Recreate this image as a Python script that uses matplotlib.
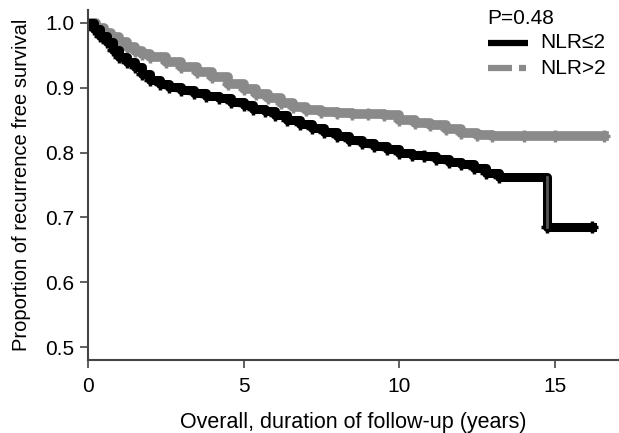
import matplotlib
matplotlib.use("Agg")
import matplotlib.pyplot as plt
from matplotlib.lines import Line2D

plt.rcParams['font.family'] = ['Liberation Sans', 'DejaVu Sans']

# Kaplan-Meier curves (years, survival)
t_low = [0, 0.2, 0.4, 0.6, 0.8, 1.0, 1.25, 1.5, 1.75, 2.0, 2.3, 2.6, 3.0, 3.4,
         3.8, 4.2, 4.6, 5.0, 5.3, 5.7, 6.0, 6.4, 6.8, 7.2, 7.6, 8.0, 8.4, 8.8,
         9.2, 9.6, 10.0, 10.4, 10.8, 11.2, 11.6, 12.0, 12.4, 12.8, 13.2, 14.75, 16.2]
s_low = [1.0, 0.99, 0.98, 0.97, 0.958, 0.948, 0.94, 0.932, 0.922, 0.912, 0.906,
         0.901, 0.897, 0.892, 0.888, 0.884, 0.878, 0.873, 0.868, 0.864, 0.858,
         0.851, 0.844, 0.838, 0.832, 0.825, 0.82, 0.815, 0.81, 0.805, 0.8, 0.797,
         0.794, 0.79, 0.786, 0.782, 0.776, 0.768, 0.762, 0.685, 0.685]

t_high = [0, 0.25, 0.5, 0.75, 1.0, 1.25, 1.5, 1.75, 2.0, 2.5, 3.0, 3.5, 4.0, 4.5,
          5.0, 5.4, 5.8, 6.2, 6.6, 7.0, 7.5, 8.0, 8.5, 9.0, 9.5, 10.0, 10.5, 11.0,
          11.5, 12.0, 12.5, 13.0, 14.0, 15.0, 16.6]
s_high = [1.0, 0.993, 0.985, 0.978, 0.97, 0.963, 0.957, 0.952, 0.948, 0.94, 0.932,
          0.924, 0.916, 0.906, 0.898, 0.891, 0.884, 0.877, 0.871, 0.866, 0.862,
          0.861, 0.86, 0.86, 0.858, 0.851, 0.846, 0.842, 0.836, 0.83, 0.827, 0.826,
          0.826, 0.826, 0.826]

p_text = "P=0.48"
labels = ["NLR\u22642", "NLR>2"]

black = "#000000"
grey = "#8a8a8a"

W, H = 619, 433
fig = plt.figure(figsize=(6.19, 4.33), dpi=100)
ax = fig.add_axes([88 / W, 1 - 360 / H, 1 - 88 / W, 350 / H])

ax.plot(t_high, s_high, drawstyle="steps-post", color=grey, lw=7,
        solid_joinstyle="round")
ax.plot(t_high[1:], s_high[1:], "+", color=grey, ms=9, mew=2.5)
ax.plot(t_low, s_low, drawstyle="steps-post", color=black, lw=6.5,
        solid_joinstyle="round")
ax.plot(t_low[1:], s_low[1:], "+", color=black, ms=9, mew=2.5)
ax.plot([14.75, 14.75], [s_low[-3], s_low[-2]], color="#555555", lw=2)

ax.set_xlim(0, 17.07)
ax.set_ylim(0.48, 1.02)
ax.set_xticks([0, 5, 10, 15])
ax.set_yticks([0.5, 0.6, 0.7, 0.8, 0.9, 1.0])
ax.set_yticklabels(["0.5", "0.6", "0.7", "0.8", "0.9", "1.0"])
ax.tick_params(labelsize=15, length=6, width=1.2, color="#444444", pad=4)
ax.tick_params(axis="x", pad=6)

for side in ["top", "right"]:
    ax.spines[side].set_visible(False)
for side in ["left", "bottom"]:
    ax.spines[side].set_color("#444444")
    ax.spines[side].set_linewidth(1.5)

ax.set_xlabel("Overall, duration of follow-up (years)", fontsize=15.5, labelpad=12)
ax.set_ylabel("Proportion of recurrence free survival", fontsize=14.5, labelpad=10)

# legend drawn by hand to match the layout
fig.text(487 / W, 1 - 18 / H, p_text, fontsize=15, va="center", ha="left")
fig.add_artist(Line2D([488 / W, 528 / W], [1 - 43 / H] * 2, color=black, lw=4.5,
                      solid_capstyle="butt"))
fig.add_artist(Line2D([488 / W, 512 / W], [1 - 68 / H] * 2, color=grey, lw=4.5,
                      solid_capstyle="butt"))
fig.add_artist(Line2D([519 / W, 526 / W], [1 - 68 / H] * 2, color=grey, lw=4.5,
                      solid_capstyle="butt"))
fig.text(540 / W, 1 - 43 / H, labels[0], fontsize=15, va="center", ha="left")
fig.text(540 / W, 1 - 68 / H, labels[1], fontsize=15, va="center", ha="left")

fig.savefig("out.png", dpi=100)
